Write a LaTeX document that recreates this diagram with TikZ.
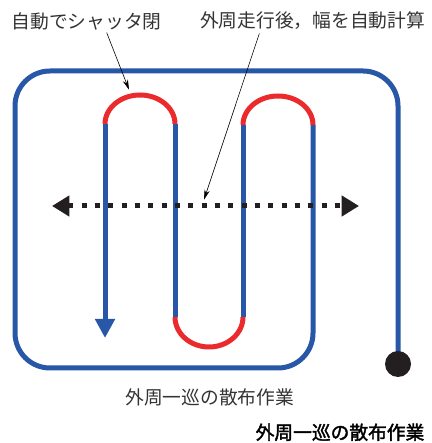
\documentclass[tikz,border=0pt]{standalone}
\usepackage{fontspec}
\newfontfamily\cjk{Noto Sans CJK JP}
\newfontfamily\cjkbold[FakeBold=2]{Noto Sans CJK JP}
\usetikzlibrary{arrows.meta}
\definecolor{pathblue}{HTML}{2757A6}
\definecolor{shutred}{HTML}{EB2A2E}
\definecolor{inkdark}{HTML}{231F20}
\begin{document}
\begin{tikzpicture}
        [
        Run/.style={draw=pathblue,line width=0.15cm},
        Turn/.style={draw=shutred,line width=0.15cm},
        Spread/.style={draw=inkdark,line width=0.15cm,dash pattern=on 0.15cm off 0.25cm,
            {Triangle[length=0.52cm,width=0.6cm]}-{Triangle[length=0.52cm,width=0.6cm]}},
        Leader/.style={draw=black,line width=0.5pt,-{Stealth[length=0.3cm,width=0.16cm]}},
        Tag/.style={font=\cjk\fontsize{16pt}{18pt}\selectfont,text=black!80,inner sep=0pt},
        ]

        \useasboundingbox (0,0) rectangle (12.93,13.29);

        % outer round
        \coordinate (start) at (11.94,2.37);
        \draw[Run,rounded corners=1.05cm] (start) -- (11.94,11.16) -- (0.45,11.16)
            -- (0.45,2.25) -- (9.39,2.25) -- (9.39,9.54);
        \fill[inkdark] (start) circle (0.39);

% back and forth
\draw[Turn] (9.39,9.54) arc[start angle=0,end angle=180,x radius=1.05,y radius=0.87];
\draw[Run] (7.29,9.54) -- (7.29,3.78);
\draw[Turn] (7.29,3.78) arc[start angle=0,end angle=-180,x radius=1.02,y radius=0.9];
\draw[Run] (5.25,3.78) -- (5.25,9.57);
\draw[Turn] (5.25,9.57) arc[start angle=0,end angle=180,x radius=1.05,y radius=0.87];
\draw[Run,-{Triangle[length=0.57cm,width=0.57cm]}] (3.15,9.57) -- (3.15,3.15);

\coordinate (west) at (1.56,7.11);
\coordinate (east) at (10.77,7.11);
\draw[Spread] (west) -- (east);

\node[Tag] (shutter) at (2.6,12.66){自動でシャッタ閉};
\node[Tag] (width) at (9.38,12.66){外周走行後，幅を自動計算};
\node[Tag] (round) at (6.29,1.38){外周一巡の散布作業};
\node[Tag,font=\cjkbold\fontsize{16pt}{18pt}\selectfont,text=black] (title) at (10.2,0.32){外周一巡の散布作業};

\coordinate (arcTop) at (3.87,10.6);
\coordinate (midPt) at (6.12,7.3);
\draw[Leader] ([xshift=0.6cm,yshift=-0.08cm]shutter.south) -- (arcTop);
\draw[Leader] ([xshift=-1.6cm,yshift=-0.1cm]width.south) -- (midPt);

    \end{tikzpicture}
\end{document}
